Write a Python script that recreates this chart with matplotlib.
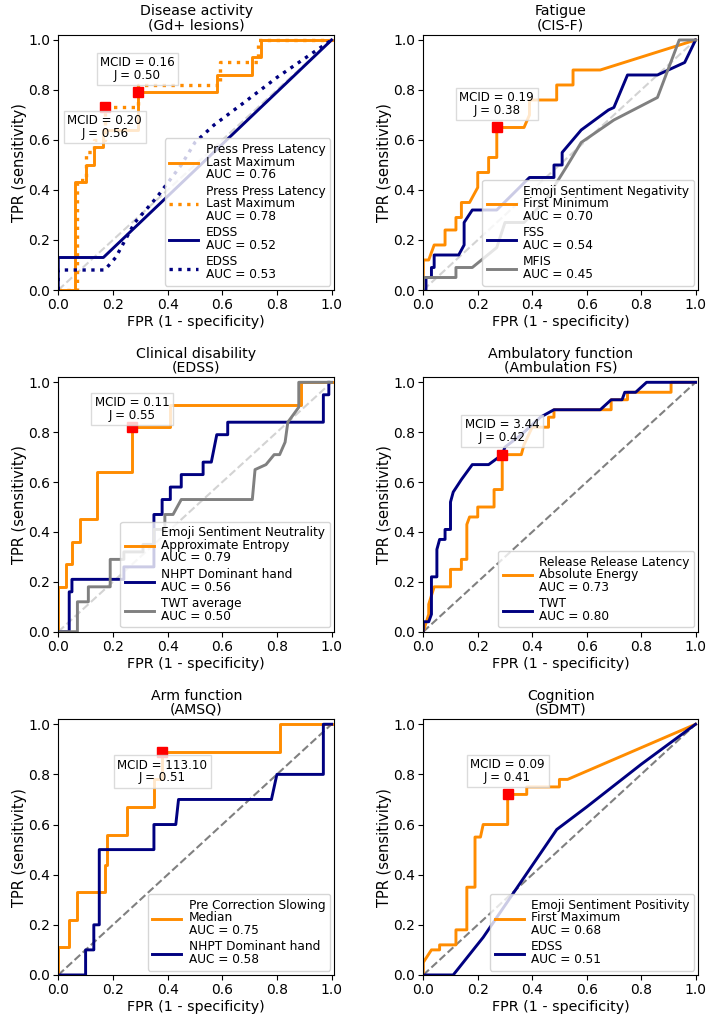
import matplotlib
matplotlib.use("Agg")
from matplotlib import pyplot as plt

# ---- Disease activity (Gd+ lesions)
gd_ppl_fpr = [0, 0.06, 0.06, 0.10, 0.10, 0.13, 0.13, 0.165, 0.165, 0.29, 0.29, 0.58, 0.58, 0.71, 0.71, 0.74, 0.74, 1.0]
gd_ppl_tpr = [0, 0, 0.43, 0.43, 0.50, 0.50, 0.57, 0.57, 0.64, 0.64, 0.79, 0.79, 0.86, 0.86, 0.93, 0.93, 1.0, 1.0]
gd_ppl2_fpr = [0, 0.07, 0.07, 0.10, 0.10, 0.13, 0.13, 0.17, 0.17, 0.29, 0.29, 0.59, 0.59, 0.73, 0.73, 1.0]
gd_ppl2_tpr = [0, 0, 0.44, 0.44, 0.55, 0.55, 0.60, 0.60, 0.73, 0.73, 0.82, 0.82, 0.91, 0.91, 1.0, 1.0]
gd_edss_fpr = [0, 0, 0.165, 1.0]
gd_edss_tpr = [0, 0.13, 0.13, 1.0]
gd_edss2_fpr = [0, 0, 0.17, 0.21, 0.28, 0.36, 0.45, 0.50, 0.57, 0.68, 0.80, 1.0]
gd_edss2_tpr = [0, 0.08, 0.08, 0.13, 0.27, 0.37, 0.50, 0.59, 0.66, 0.75, 0.85, 1.0]

# ---- Fatigue (CIS-F)
cis_emoji_fpr = [0, 0, 0.02, 0.04, 0.08, 0.08, 0.12, 0.12, 0.14, 0.14, 0.17, 0.20, 0.20, 0.24, 0.24,
                 0.27, 0.27, 0.37, 0.39, 0.39, 0.49, 0.49, 0.55, 0.55, 0.65, 1.0]
cis_emoji_tpr = [0, 0.12, 0.12, 0.18, 0.18, 0.24, 0.24, 0.29, 0.29, 0.35, 0.35, 0.41, 0.47, 0.47, 0.53,
                 0.53, 0.65, 0.65, 0.70, 0.76, 0.76, 0.82, 0.82, 0.88, 0.88, 1.0]
cis_fss_fpr = [0, 0.01, 0.01, 0.03, 0.03, 0.04, 0.04, 0.13, 0.15, 0.15, 0.18, 0.27, 0.39, 0.48, 0.48,
               0.51, 0.51, 0.58, 0.68, 0.70, 0.75, 0.86, 0.96, 1.0]
cis_fss_tpr = [0, 0, 0.05, 0.05, 0.09, 0.09, 0.14, 0.14, 0.18, 0.27, 0.32, 0.32, 0.45, 0.45, 0.50,
               0.50, 0.55, 0.64, 0.72, 0.73, 0.86, 0.86, 0.91, 1.0]
cis_mfis_fpr = [0, 0, 0.12, 0.12, 0.18, 0.27, 0.30, 0.37, 0.45, 0.53, 0.58, 0.70, 0.86, 0.94, 1.0]
cis_mfis_tpr = [0, 0.05, 0.05, 0.09, 0.09, 0.17, 0.27, 0.27, 0.36, 0.50, 0.59, 0.68, 0.77, 1.0, 1.0]

# ---- Clinical disability (EDSS)
edss_emoji_fpr = [0, 0, 0.03, 0.03, 0.05, 0.05, 0.08, 0.08, 0.14, 0.14, 0.27, 0.27, 0.41, 0.41, 0.89, 0.89, 1.0]
edss_emoji_tpr = [0, 0.18, 0.18, 0.27, 0.27, 0.36, 0.36, 0.45, 0.45, 0.64, 0.64, 0.82, 0.82, 0.91, 0.91, 1.0, 1.0]
edss_nhpt_fpr = [0, 0.04, 0.04, 0.05, 0.05, 0.24, 0.24, 0.35, 0.35, 0.38, 0.38, 0.41, 0.41, 0.45, 0.45,
                 0.53, 0.53, 0.56, 0.58, 0.62, 0.62, 0.97, 0.97, 0.99, 0.99]
edss_nhpt_tpr = [0, 0, 0.16, 0.16, 0.21, 0.21, 0.26, 0.26, 0.47, 0.47, 0.53, 0.53, 0.58, 0.58, 0.63,
                 0.63, 0.68, 0.68, 0.79, 0.79, 0.84, 0.84, 0.95, 0.95, 1.0]
edss_twt_fpr = [0, 0.07, 0.07, 0.11, 0.11, 0.19, 0.19, 0.24, 0.24, 0.31, 0.31, 0.35, 0.35, 0.39, 0.39,
                0.42, 0.45, 0.71, 0.72, 0.76, 0.79, 0.81, 0.83, 0.84, 0.88, 0.88, 1.0]
edss_twt_tpr = [0, 0, 0.12, 0.12, 0.18, 0.18, 0.29, 0.29, 0.32, 0.32, 0.35, 0.35, 0.41, 0.41, 0.47,
                0.47, 0.53, 0.53, 0.65, 0.67, 0.71, 0.71, 0.76, 0.84, 0.90, 1.0, 1.0]

# ---- Ambulatory function (Ambulation FS)
amb_rrl_fpr = [0, 0.02, 0.02, 0.04, 0.10, 0.10, 0.14, 0.14, 0.16, 0.16, 0.17, 0.20, 0.20, 0.26, 0.26, 0.29,
               0.29, 0.36, 0.37, 0.40, 0.46, 0.46, 0.48, 0.48, 0.69, 0.69, 0.75, 0.75, 0.91, 0.91, 1.0]
amb_rrl_tpr = [0, 0.07, 0.11, 0.18, 0.18, 0.25, 0.25, 0.29, 0.29, 0.43, 0.46, 0.46, 0.50, 0.50, 0.57, 0.57,
               0.71, 0.71, 0.75, 0.82, 0.82, 0.86, 0.86, 0.89, 0.89, 0.93, 0.93, 0.96, 0.96, 1.0, 1.0]
amb_twt_fpr = [0, 0, 0.02, 0.03, 0.03, 0.05, 0.05, 0.06, 0.08, 0.08, 0.10, 0.10, 0.11, 0.14, 0.18, 0.24,
               0.29, 0.30, 0.36, 0.43, 0.48, 0.65, 0.69, 0.73, 0.74, 0.78, 0.82, 1.0]
amb_twt_tpr = [0, 0.04, 0.04, 0.07, 0.22, 0.22, 0.33, 0.37, 0.37, 0.41, 0.41, 0.52, 0.56, 0.61, 0.67, 0.67,
               0.71, 0.74, 0.79, 0.86, 0.89, 0.89, 0.93, 0.93, 0.96, 0.96, 1.0, 1.0]

# ---- Arm function (AMSQ)
arm_pcs_fpr = [0, 0, 0.04, 0.04, 0.07, 0.07, 0.17, 0.17, 0.18, 0.18, 0.25, 0.25, 0.35, 0.35, 0.38, 0.38, 0.81, 0.81, 1.0]
arm_pcs_tpr = [0, 0.11, 0.11, 0.22, 0.22, 0.33, 0.33, 0.44, 0.44, 0.56, 0.56, 0.67, 0.67, 0.78, 0.78, 0.89, 0.89, 1.0, 1.0]
arm_nhpt_fpr = [0, 0.10, 0.10, 0.13, 0.13, 0.15, 0.15, 0.35, 0.35, 0.43, 0.44, 0.78, 0.80, 0.97, 0.97, 1.0]
arm_nhpt_tpr = [0, 0, 0.10, 0.10, 0.20, 0.20, 0.50, 0.50, 0.60, 0.60, 0.70, 0.70, 0.80, 0.80, 1.0, 1.0]

# ---- Cognition (SDMT)
cog_emoji_fpr = [0, 0, 0.03, 0.06, 0.06, 0.12, 0.12, 0.16, 0.16, 0.19, 0.19, 0.21, 0.22, 0.31, 0.31,
                 0.38, 0.38, 0.50, 0.50, 0.53, 1.0]
cog_emoji_tpr = [0, 0.05, 0.10, 0.10, 0.12, 0.12, 0.18, 0.18, 0.35, 0.35, 0.55, 0.55, 0.60, 0.60, 0.72,
                 0.72, 0.75, 0.75, 0.78, 0.78, 1.0]
cog_edss_fpr = [0, 0.11, 0.22, 0.49, 0.60, 0.80, 1.0]
cog_edss_tpr = [0, 0, 0.15, 0.58, 0.67, 0.84, 1.0]

# ---- cut-off points (fpr, tpr, MCID, J)
gd_cut = [(0.29, 0.79, "0.16", "0.50"), (0.17, 0.73, "0.20", "0.56")]
cis_cut = [(0.27, 0.65, "0.19", "0.38")]
edss_cut = [(0.27, 0.82, "0.11", "0.55")]
amb_cut = [(0.29, 0.71, "3.44", "0.42")]
arm_cut = [(0.38, 0.89, "113.10", "0.51")]
cog_cut = [(0.31, 0.72, "0.09", "0.41")]

ORANGE = "darkorange"
NAVY = "navy"
GREY = "grey"

panels = [
    dict(title="Disease activity\n(Gd+ lesions)", pos=[0.0822, 0.714, 0.3893, 0.2515], diag="lightgray",
         curves=[(gd_ppl_fpr, gd_ppl_tpr, ORANGE, "-", "Press Press Latency\nLast Maximum\nAUC = 0.76"),
                 (gd_ppl2_fpr, gd_ppl2_tpr, ORANGE, ":", "Press Press Latency\nLast Maximum\nAUC = 0.78"),
                 (gd_edss_fpr, gd_edss_tpr, NAVY, "-", "EDSS\nAUC = 0.52"),
                 (gd_edss2_fpr, gd_edss2_tpr, NAVY, ":", "EDSS\nAUC = 0.53")],
         cuts=gd_cut, offs=[17, -14]),
    dict(title="Fatigue\n(CIS-F)", pos=[0.597, 0.714, 0.3879, 0.2515], diag="lightgray",
         curves=[(cis_emoji_fpr, cis_emoji_tpr, ORANGE, "-", "Emoji Sentiment Negativity\nFirst Minimum\nAUC = 0.70"),
                 (cis_fss_fpr, cis_fss_tpr, NAVY, "-", "FSS\nAUC = 0.54"),
                 (cis_mfis_fpr, cis_mfis_tpr, GREY, "-", "MFIS\nAUC = 0.45")],
         cuts=cis_cut, offs=[17]),
    dict(title="Clinical disability\n(EDSS)", pos=[0.0822, 0.377, 0.3893, 0.2509], diag="lightgray",
         curves=[(edss_emoji_fpr, edss_emoji_tpr, ORANGE, "-", "Emoji Sentiment Neutrality\nApproximate Entropy\nAUC = 0.79"),
                 (edss_nhpt_fpr, edss_nhpt_tpr, NAVY, "-", "NHPT Dominant hand\nAUC = 0.56"),
                 (edss_twt_fpr, edss_twt_tpr, GREY, "-", "TWT average\nAUC = 0.50")],
         cuts=edss_cut, offs=[13]),
    dict(title="Ambulatory function\n(Ambulation FS)", pos=[0.597, 0.377, 0.3879, 0.2509], diag="grey",
         curves=[(amb_rrl_fpr, amb_rrl_tpr, ORANGE, "-", "Release Release Latency\nAbsolute Energy\nAUC = 0.73"),
                 (amb_twt_fpr, amb_twt_tpr, NAVY, "-", "TWT\nAUC = 0.80")],
         cuts=amb_cut, offs=[17]),
    dict(title="Arm function\n(AMSQ)", pos=[0.0822, 0.0385, 0.3893, 0.2522], diag="grey",
         curves=[(arm_pcs_fpr, arm_pcs_tpr, ORANGE, "-", "Pre Correction Slowing\nMedian\nAUC = 0.75"),
                 (arm_nhpt_fpr, arm_nhpt_tpr, NAVY, "-", "NHPT Dominant hand\nAUC = 0.58")],
         cuts=arm_cut, offs=[-14]),
    dict(title="Cognition\n(SDMT)", pos=[0.597, 0.0385, 0.3879, 0.2522], diag="grey",
         curves=[(cog_emoji_fpr, cog_emoji_tpr, ORANGE, "-", "Emoji Sentiment Positivity\nFirst Maximum\nAUC = 0.68"),
                 (cog_edss_fpr, cog_edss_tpr, NAVY, "-", "EDSS\nAUC = 0.51")],
         cuts=cog_cut, offs=[17]),
]

fig = plt.figure(figsize=(7.09, 10.14), dpi=100)

for p in panels:
    ax = fig.add_axes(p["pos"])
    ax.plot([0, 1], [0, 1], color=p["diag"], linestyle="--", lw=1.5, zorder=1)
    for fpr, tpr, col, ls, lab in p["curves"]:
        ax.plot(fpr, tpr, color=col, linestyle=ls, lw=2.4 if ls == ":" else 2.1, label=lab, zorder=2)
    for (x, y, mcid, j), off in zip(p["cuts"], p["offs"]):
        ax.plot(x, y, "s", color="red", ms=6.5, zorder=4)
        ax.annotate("MCID = %s\nJ = %s" % (mcid, j), (x, y), xytext=(0, off), textcoords="offset points",
                    ha="center", va="center", fontsize=8.6, linespacing=0.95, zorder=5,
                    bbox=dict(boxstyle="square,pad=0.3", fc="white", ec="lightgray", alpha=0.8))
    ax.set_xlim(0, 1.01)
    ax.set_ylim(0, 1.02)
    ax.set_xticks([0, 0.2, 0.4, 0.6, 0.8, 1.0])
    ax.set_yticks([0, 0.2, 0.4, 0.6, 0.8, 1.0])
    ax.tick_params(labelsize=10, pad=2.5)
    ax.set_xlabel("FPR (1 - specificity)", fontsize=10.3, labelpad=2)
    ax.set_ylabel("TPR (sensitivity)", fontsize=10.5, labelpad=0.5)
    ax.set_title(p["title"], fontsize=10.2, pad=4, linespacing=1.0)
    leg = ax.legend(loc="lower right", fontsize=8.7, handlelength=2.4, handletextpad=0.6,
                    framealpha=0.8, labelspacing=0.3, borderaxespad=0.35, borderpad=0.4)
    for t in leg.get_texts():
        t.set_linespacing(0.95)

fig.savefig("out.png", dpi=100)
